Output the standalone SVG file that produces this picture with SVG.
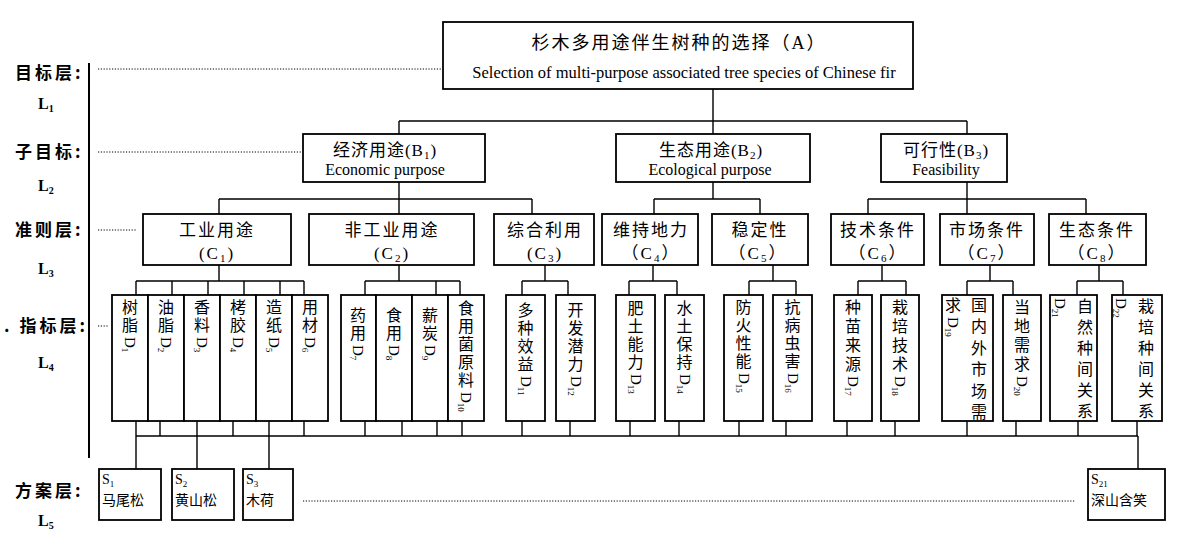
<svg xmlns="http://www.w3.org/2000/svg" width="1179" height="545" viewBox="0 0 1179 545">
<style>
.bx{fill:#fff;stroke:#000;stroke-width:1.8}
.ln{fill:none;stroke:#000;stroke-width:1.4}
.dt{fill:none;stroke:#000;stroke-width:1;stroke-dasharray:1.2 1.6}
.ax{fill:none;stroke:#000;stroke-width:2}
text{font-family:"Liberation Serif","Noto Sans CJK SC",serif;fill:#000}
.m{text-anchor:middle}
.t18{font-size:18px;letter-spacing:2px}
.en{font-size:16px}
.b17{font-size:17px;letter-spacing:1px}
.c{font-size:17px;letter-spacing:2px}
.d{font-size:16px;text-anchor:middle}
.dl{font-size:15px}
.sb{font-size:9px}
.lab{font-family:"Noto Sans CJK SC",sans-serif;font-size:17px;font-weight:bold;letter-spacing:3px}
.L{font-size:16px;font-weight:bold}
.ls{font-size:10px;font-weight:bold}
.s{font-size:14px}
</style>

<g id="levels">
<path class="ax" d="M89 63V458"/>
<text class="lab" x="15" y="79">目标层:</text>
<text class="L" x="38" y="109">L<tspan class="ls" dy="3">1</tspan></text>
<text class="lab" x="15" y="158">子目标:</text>
<text class="L" x="38" y="191">L<tspan class="ls" dy="3">2</tspan></text>
<text class="lab" x="15" y="236">准则层:</text>
<text class="L" x="38" y="274">L<tspan class="ls" dy="3">3</tspan></text>
<text class="lab" x="4" y="332">. 指标层:</text>
<text class="L" x="38" y="368">L<tspan class="ls" dy="3">4</tspan></text>
<text class="lab" x="15" y="497">方案层:</text>
<text class="L" x="38" y="526">L<tspan class="ls" dy="3">5</tspan></text>
<path class="dt" d="M98 69H441M98 152H301M98 230H136M98 326H109M303 501H1075"/>
</g>

<g id="connectors">
<path class="ln" d="M713 89V134M399 121H967M399 121V134M967 121V134
M399 182V214M219 199H532M219 199V214M532 199V214
M713 182V199M654 199H760M654 199V214M760 199V214
M967 182V214M868 199H1086M868 199V214M1086 199V214
M219 265V281M136 281H304M136 281V295M172 281V295M208 281V295M244 281V295M280 281V295M304 281V295
M399 265V281M365 281H460M365 281V295M436 281V295M460 281V295
M545 265V281M522 281H568M522 281V295M568 281V295
M653 265V281M629 281H677M629 281V295M677 281V295
M773 265V281M749 281H796M749 281V295M796 281V295
M882 265V281M858 281H906M858 281V295M906 281V295
M990 265V281M967 281H1013M967 281V295M1013 281V295
M1099 265V281M1077 281H1123M1077 281V295M1123 281V295
M136 436H1138
M136 421V469M160 421V436M197 421V469M233 421V436M269 421V469M304 421V436
M365 421V436M402 421V436M437 421V436M462 421V436
M522 421V436M570 421V436M630 421V436M679 421V436M739 421V436M786 421V436
M847 421V436M895 421V436M967 421V436M1016 421V436M1078 421V436M1137 421V436M1138 436V469"/>
</g>

<g id="A">
<rect class="bx" x="443" y="22" width="470" height="67" stroke-width="2.4"/>
<text class="t18 m" x="679" y="49">杉木多用途伴生树种的选择（A）</text>
<text class="m" font-size="16.5" x="684" y="78">Selection of multi-purpose associated tree species of Chinese fir</text>
</g>

<g id="B1">
<rect class="bx" x="303" y="134" width="182" height="48"/>
<text class="b17 m" x="385" y="156">经济用途(B<tspan font-size="11" dy="3">1</tspan><tspan dy="-3">)</tspan></text>
<text class="en m" x="385" y="175">Economic purpose</text>
</g>
<g id="B2">
<rect class="bx" x="616" y="134" width="194" height="48"/>
<text class="b17 m" x="711" y="156">生态用途(B<tspan font-size="11" dy="3">2</tspan><tspan dy="-3">)</tspan></text>
<text class="en m" x="710" y="175">Ecological purpose</text>
</g>
<g id="B3">
<rect class="bx" x="881" y="134" width="126" height="48"/>
<text class="b17 m" x="946" y="156">可行性(B<tspan font-size="11" dy="3">3</tspan><tspan dy="-3">)</tspan></text>
<text class="en m" x="946" y="175">Feasibility</text>
</g>

<g id="C1"><rect class="bx" x="143" y="214" width="148" height="51"/>
<text class="c m" x="217" y="236">工业用途</text><text class="c m" x="217" y="259">(C<tspan font-size="11" dy="3">1</tspan><tspan dy="-3">)</tspan></text></g>
<g id="C2"><rect class="bx" x="309" y="214" width="165" height="51"/>
<text class="c m" x="392" y="236">非工业用途</text><text class="c m" x="392" y="259">(C<tspan font-size="11" dy="3">2</tspan><tspan dy="-3">)</tspan></text></g>
<g id="C3"><rect class="bx" x="494" y="214" width="100" height="51"/>
<text class="c m" x="545" y="236">综合利用</text><text class="c m" x="545" y="259">(C<tspan font-size="11" dy="3">3</tspan><tspan dy="-3">)</tspan></text></g>
<g id="C4"><rect class="bx" x="602" y="214" width="96" height="51"/>
<text class="c m" x="651" y="236">维持地力</text><text class="c m" x="651" y="259">（C<tspan font-size="11" dy="3">4</tspan><tspan dy="-3">）</tspan></text></g>
<g id="C5"><rect class="bx" x="712" y="214" width="96" height="51"/>
<text class="c m" x="760" y="236">稳定性</text><text class="c m" x="758" y="259">（C<tspan font-size="11" dy="3">5</tspan><tspan dy="-3">）</tspan></text></g>
<g id="C6"><rect class="bx" x="831" y="214" width="93" height="51"/>
<text class="c m" x="878" y="236">技术条件</text><text class="c m" x="878" y="259">（C<tspan font-size="11" dy="3">6</tspan><tspan dy="-3">）</tspan></text></g>
<g id="C7"><rect class="bx" x="940" y="214" width="94" height="51"/>
<text class="c m" x="987" y="236">市场条件</text><text class="c m" x="987" y="259">（C<tspan font-size="11" dy="3">7</tspan><tspan dy="-3">）</tspan></text></g>
<g id="C8"><rect class="bx" x="1049" y="214" width="97" height="51"/>
<text class="c m" x="1097" y="236">生态条件</text><text class="c m" x="1097" y="259">（C<tspan font-size="11" dy="3">8</tspan><tspan dy="-3">）</tspan></text></g>

<g id="D1"><rect class="bx" x="112" y="295" width="36" height="126"/>
<text class="d"><tspan x="130" y="313">树</tspan><tspan x="130" y="331">脂</tspan></text>
<text class="dl" transform="translate(125,337) rotate(90)">D<tspan class="sb" dy="3">1</tspan></text></g>
<g id="D2"><rect class="bx" x="148" y="295" width="36" height="126"/>
<text class="d"><tspan x="166" y="313">油</tspan><tspan x="166" y="331">脂</tspan></text>
<text class="dl" transform="translate(161,337) rotate(90)">D<tspan class="sb" dy="3">2</tspan></text></g>
<g id="D3"><rect class="bx" x="184" y="295" width="36" height="126"/>
<text class="d"><tspan x="202" y="313">香</tspan><tspan x="202" y="331">料</tspan></text>
<text class="dl" transform="translate(197,337) rotate(90)">D<tspan class="sb" dy="3">3</tspan></text></g>
<g id="D4"><rect class="bx" x="220" y="295" width="36" height="126"/>
<text class="d"><tspan x="238" y="313">栲</tspan><tspan x="238" y="331">胶</tspan></text>
<text class="dl" transform="translate(233,337) rotate(90)">D<tspan class="sb" dy="3">4</tspan></text></g>
<g id="D5"><rect class="bx" x="256" y="295" width="36" height="126"/>
<text class="d"><tspan x="274" y="313">造</tspan><tspan x="274" y="331">纸</tspan></text>
<text class="dl" transform="translate(269,337) rotate(90)">D<tspan class="sb" dy="3">5</tspan></text></g>
<g id="D6"><rect class="bx" x="292" y="295" width="36" height="126"/>
<text class="d"><tspan x="310" y="313">用</tspan><tspan x="310" y="331">材</tspan></text>
<text class="dl" transform="translate(305,337) rotate(90)">D<tspan class="sb" dy="3">6</tspan></text></g>

<g id="D7"><rect class="bx" x="341" y="295" width="35" height="126"/>
<text class="d"><tspan x="358" y="321">药</tspan><tspan x="358" y="339">用</tspan></text>
<text class="dl" transform="translate(353,345) rotate(90)">D<tspan class="sb" dy="3">7</tspan></text></g>
<g id="D8"><rect class="bx" x="376" y="295" width="36" height="126"/>
<text class="d"><tspan x="394" y="321">食</tspan><tspan x="394" y="339">用</tspan></text>
<text class="dl" transform="translate(389,345) rotate(90)">D<tspan class="sb" dy="3">8</tspan></text></g>
<g id="D9"><rect class="bx" x="412" y="295" width="36" height="126"/>
<text class="d"><tspan x="430" y="321">薪</tspan><tspan x="430" y="339">炭</tspan></text>
<text class="dl" transform="translate(425,345) rotate(90)">D<tspan class="sb" dy="3">9</tspan></text></g>
<g id="D10"><rect class="bx" x="448" y="295" width="36" height="126"/>
<text class="d"><tspan x="466" y="314">食</tspan><tspan x="466" y="332">用</tspan><tspan x="466" y="350">菌</tspan><tspan x="466" y="368">原</tspan><tspan x="466" y="386">料</tspan></text>
<text class="dl" transform="translate(461,392) rotate(90)">D<tspan class="sb" dy="3">10</tspan></text></g>

<g id="D11"><rect class="bx" x="506" y="295" width="39" height="126"/>
<text class="d"><tspan x="525.5" y="316">多</tspan><tspan x="525.5" y="334">种</tspan><tspan x="525.5" y="352">效</tspan><tspan x="525.5" y="370">益</tspan></text>
<text class="dl" transform="translate(520.5,376) rotate(90)">D<tspan class="sb" dy="3">11</tspan></text></g>
<g id="D12"><rect class="bx" x="556" y="295" width="39" height="126"/>
<text class="d"><tspan x="575.5" y="316">开</tspan><tspan x="575.5" y="334">发</tspan><tspan x="575.5" y="352">潜</tspan><tspan x="575.5" y="370">力</tspan></text>
<text class="dl" transform="translate(570.5,376) rotate(90)">D<tspan class="sb" dy="3">12</tspan></text></g>
<g id="D13"><rect class="bx" x="616" y="295" width="39" height="126"/>
<text class="d"><tspan x="635.5" y="314">肥</tspan><tspan x="635.5" y="332">土</tspan><tspan x="635.5" y="350">能</tspan><tspan x="635.5" y="368">力</tspan></text>
<text class="dl" transform="translate(630.5,374) rotate(90)">D<tspan class="sb" dy="3">13</tspan></text></g>
<g id="D14"><rect class="bx" x="665" y="295" width="39" height="126"/>
<text class="d"><tspan x="684.5" y="314">水</tspan><tspan x="684.5" y="332">土</tspan><tspan x="684.5" y="350">保</tspan><tspan x="684.5" y="368">持</tspan></text>
<text class="dl" transform="translate(679.5,374) rotate(90)">D<tspan class="sb" dy="3">14</tspan></text></g>
<g id="D15"><rect class="bx" x="724" y="295" width="39" height="126"/>
<text class="d"><tspan x="743.5" y="313">防</tspan><tspan x="743.5" y="331">火</tspan><tspan x="743.5" y="349">性</tspan><tspan x="743.5" y="367">能</tspan></text>
<text class="dl" transform="translate(738.5,373) rotate(90)">D<tspan class="sb" dy="3">15</tspan></text></g>
<g id="D16"><rect class="bx" x="773" y="295" width="39" height="126"/>
<text class="d"><tspan x="792.5" y="313">抗</tspan><tspan x="792.5" y="331">病</tspan><tspan x="792.5" y="349">虫</tspan><tspan x="792.5" y="367">害</tspan></text>
<text class="dl" transform="translate(787.5,373) rotate(90)">D<tspan class="sb" dy="3">16</tspan></text></g>
<g id="D17"><rect class="bx" x="834" y="295" width="38" height="126"/>
<text class="d"><tspan x="853" y="313">种</tspan><tspan x="853" y="332">苗</tspan><tspan x="853" y="351">来</tspan><tspan x="853" y="370">源</tspan></text>
<text class="dl" transform="translate(848,376) rotate(90)">D<tspan class="sb" dy="3">17</tspan></text></g>
<g id="D18"><rect class="bx" x="881" y="295" width="38" height="126"/>
<text class="d"><tspan x="900" y="313">栽</tspan><tspan x="900" y="332">培</tspan><tspan x="900" y="351">技</tspan><tspan x="900" y="370">术</tspan></text>
<text class="dl" transform="translate(895,376) rotate(90)">D<tspan class="sb" dy="3">18</tspan></text></g>
<g id="D19"><rect class="bx" x="942" y="295" width="51" height="126"/>
<text class="d"><tspan x="979" y="311">国</tspan><tspan x="979" y="332">内</tspan><tspan x="979" y="354">外</tspan><tspan x="979" y="375">市</tspan><tspan x="979" y="397">场</tspan><tspan x="979" y="418">需</tspan><tspan x="953" y="311">求</tspan></text>
<text class="dl" transform="translate(948,317) rotate(90)">D<tspan class="sb" dy="3">19</tspan></text></g>
<g id="D20"><rect class="bx" x="1003" y="295" width="38" height="126"/>
<text class="d"><tspan x="1022" y="313">当</tspan><tspan x="1022" y="332">地</tspan><tspan x="1022" y="351">需</tspan><tspan x="1022" y="370">求</tspan></text>
<text class="dl" transform="translate(1017,376) rotate(90)">D<tspan class="sb" dy="3">20</tspan></text></g>
<g id="D21"><rect class="bx" x="1050" y="295" width="47" height="126"/>
<text class="d"><tspan x="1085" y="312">自</tspan><tspan x="1085" y="333">然</tspan><tspan x="1085" y="354">种</tspan><tspan x="1085" y="375">间</tspan><tspan x="1085" y="396">关</tspan><tspan x="1085" y="417">系</tspan></text>
<text class="dl" transform="translate(1055,298) rotate(90)">D<tspan class="sb" dy="3">21</tspan></text></g>
<g id="D22"><rect class="bx" x="1112" y="295" width="50" height="126"/>
<text class="d"><tspan x="1146" y="312">栽</tspan><tspan x="1146" y="333">培</tspan><tspan x="1146" y="354">种</tspan><tspan x="1146" y="375">间</tspan><tspan x="1146" y="396">关</tspan><tspan x="1146" y="417">系</tspan></text>
<text class="dl" transform="translate(1116,298) rotate(90)">D<tspan class="sb" dy="3">22</tspan></text></g>

<g id="S1"><rect class="bx" x="99" y="469" width="62" height="51"/>
<text class="s" x="102" y="484">S<tspan font-size="9" dy="3">1</tspan></text><text class="s" x="102" y="505">马尾松</text></g>
<g id="S2"><rect class="bx" x="172" y="469" width="62" height="51"/>
<text class="s" x="175" y="484">S<tspan font-size="9" dy="3">2</tspan></text><text class="s" x="175" y="505">黄山松</text></g>
<g id="S3"><rect class="bx" x="243" y="469" width="50" height="51"/>
<text class="s" x="246" y="484">S<tspan font-size="9" dy="3">3</tspan></text><text class="s" x="246" y="505">木荷</text></g>
<g id="S21"><rect class="bx" x="1088" y="469" width="77" height="51"/>
<text class="s" x="1091" y="484">S<tspan font-size="9" dy="3">21</tspan></text><text class="s" x="1091" y="505">深山含笑</text></g>
</svg>
